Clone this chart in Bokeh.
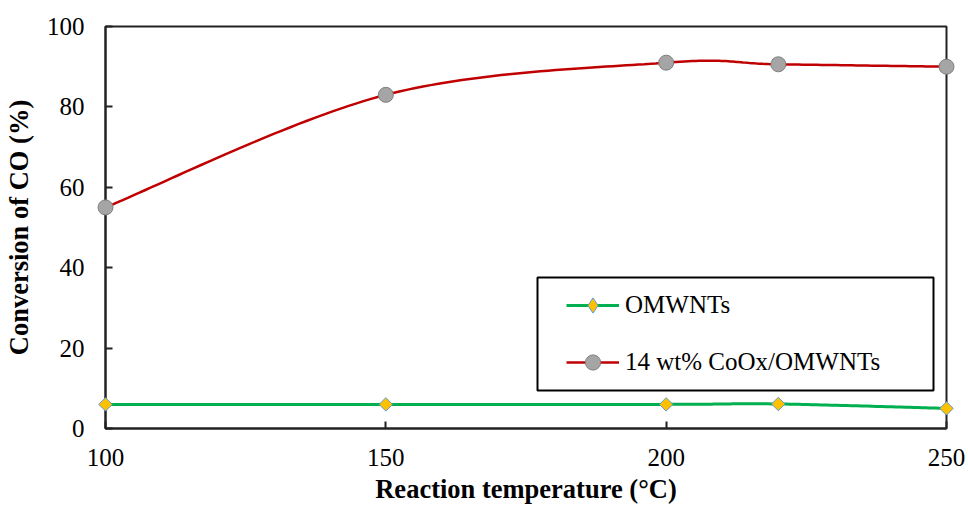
import numpy as np
from bokeh.plotting import figure
from bokeh.models import Range1d, FixedTicker, Legend, LegendItem, BoxAnnotation
from bokeh.embed import file_html
from bokeh.resources import INLINE

# ---- data ----
temperature = [100, 150, 200, 220, 250]
omwnts = [6.0, 6.0, 6.0, 6.1, 5.0]
coox_omwnts = [55.0, 83.0, 91.0, 90.6, 90.0]
x_ticks = [100, 150, 200, 250]
y_ticks = [0, 20, 40, 60, 80, 100]
series_labels = ["OMWNTs", "14 wt% CoOx/OMWNTs"]
x_title = "Reaction temperature (°C)"
y_title = "Conversion of CO (%)"

FONT = "Liberation Serif"


def smooth_curve(xs, ys, n=40):
    """Excel-style smoothed line (cubic Bezier through the data points)."""
    P = np.column_stack([xs, ys]).astype(float)
    ext = np.vstack([P[0], P, P[-1]])
    out = []
    t = np.linspace(0.0, 1.0, n)[:, None]
    for i in range(len(P) - 1):
        p0, p1, p2, p3 = ext[i], ext[i + 1], ext[i + 2], ext[i + 3]
        c1 = p1 + (p2 - p0) / 6.0
        c2 = p2 - (p3 - p1) / 6.0
        seg = ((1 - t) ** 3) * p1 + 3 * ((1 - t) ** 2) * t * c1 + 3 * (1 - t) * (t ** 2) * c2 + (t ** 3) * p2
        out.append(seg if i == 0 else seg[1:])
    c = np.vstack(out)
    return c[:, 0], c[:, 1]


W, H = 966, 507
p = figure(width=W, height=H, output_backend="svg", toolbar_location=None,
           x_range=Range1d(100, 250), y_range=Range1d(0, 100),
           min_border_left=105, min_border_right=20, min_border_top=26,
           min_border_bottom=79)
p.background_fill_color = "white"
p.border_fill_color = "white"
p.grid.visible = False
p.outline_line_color = "#222222"
p.outline_line_width = 2
p.outline_line_alpha = 1

gx, gy = smooth_curve(temperature, omwnts)
rx, ry = smooth_curve(temperature, coox_omwnts)

g_line = p.line(gx, gy, line_color="#00B050", line_width=3)
r_line = p.line(rx, ry, line_color="#C00000", line_width=2.5)
g_pts = p.scatter(temperature, omwnts, marker="square", angle=np.pi / 4, size=9.5,
                  fill_color="#FFC000", line_color="#5B9BD5", line_width=1,
                  level="overlay")
r_pts = p.scatter(temperature, coox_omwnts, marker="circle", size=15,
                  fill_color="#A5A5A5", line_color="#7F7F7F", line_width=1,
                  level="overlay")
# diamond swatch for the legend entry (hidden in the plot itself)
g_key = p.scatter(temperature, omwnts, marker="diamond", size=15,
                  fill_color="#FFC000", line_color="#5B9BD5", line_width=1,
                  visible=False)

# axes
p.xaxis.ticker = FixedTicker(ticks=x_ticks)
p.yaxis.ticker = FixedTicker(ticks=y_ticks)
for ax in (p.xaxis, p.yaxis):
    ax.axis_line_color = "#222222"
    ax.axis_line_width = 2
    ax.major_tick_line_color = "#222222"
    ax.major_tick_line_width = 2
    ax.major_tick_in = 7
    ax.major_tick_out = 0
    ax.minor_tick_in = 0
    ax.minor_tick_out = 0
    ax.major_label_text_font = FONT
    ax.major_label_text_font_size = "25px"
    ax.major_label_text_color = "black"
    ax.axis_label_text_font = FONT
    ax.axis_label_text_font_size = "26.5px"
    ax.axis_label_text_font_style = "bold"
    ax.axis_label_text_color = "black"
p.xaxis.axis_label = x_title
p.yaxis.axis_label = y_title
p.xaxis.major_label_standoff = 20
p.xaxis.axis_label_standoff = 5
p.yaxis.major_label_standoff = 21
p.yaxis.axis_label_standoff = 10

# legend frame
box = BoxAnnotation(left=432, right=828, bottom=38, top=151,
                    left_units="screen", right_units="screen",
                    top_units="screen", bottom_units="screen",
                    fill_alpha=0, line_color="black", line_width=2, line_alpha=1)
p.add_layout(box)

legend = Legend(items=[LegendItem(label=series_labels[0], renderers=[g_line, g_key]),
                       LegendItem(label=series_labels[1], renderers=[r_line, r_pts])],
                location=(461, 47), padding=0, margin=0, spacing=19,
                glyph_width=53, glyph_height=38, label_height=38, label_standoff=6,
                label_text_font=FONT, label_text_font_size="25px", label_text_color="black",
                border_line_alpha=0, background_fill_alpha=0,
                inactive_fill_alpha=0)
p.add_layout(legend)

open("out.html", "w").write(file_html(p, INLINE))
